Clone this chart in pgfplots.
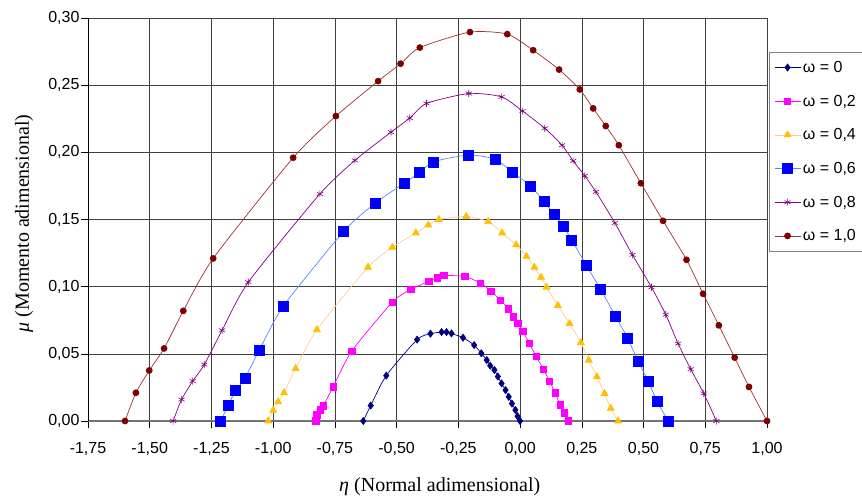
\documentclass[border=0pt]{standalone}
\usepackage{fontspec}
\setmainfont{Liberation Sans}
\newfontfamily\seriffont{Liberation Serif}
\usepackage{pgfplots}
\pgfplotsset{compat=1.18}

\definecolor{cA}{HTML}{000080}
\definecolor{cB}{HTML}{FF00FF}
\definecolor{cCl}{HTML}{FFCC99}
\definecolor{cCm}{HTML}{FFC000}
\definecolor{cDl}{HTML}{5C85FF}
\definecolor{cDm}{HTML}{0000FF}
\definecolor{cE}{HTML}{800080}
\definecolor{cFl}{HTML}{993333}
\definecolor{cFm}{HTML}{800000}

\begin{document}
\begin{tikzpicture}
\begin{axis}[
    scale only axis, width=679pt, height=403pt,
    xmin=-1.75, xmax=1, ymin=0, ymax=0.30,
    xtick={-1.75,-1.5,-1.25,-1,-0.75,-0.5,-0.25,0,0.25,0.5,0.75,1},
    ytick={0,0.05,0.1,0.15,0.2,0.25,0.3},
    axis x line=bottom, axis y line=left,
    x axis line style={-, draw=black!55, line width=2pt},
    y axis line style={-, draw=black, line width=0.8pt},
    grid=major, major grid style={draw=black!75, line width=0.6pt},
    tick align=outside, major tick length=7pt,
    tick style={black, line width=0.6pt},
    ticklabel style={font=\fontsize{16}{19}\selectfont},
    xticklabel style={yshift=-11pt},
    yticklabel style={xshift=2pt},
    /pgf/number format/fixed, /pgf/number format/fixed zerofill,
    /pgf/number format/precision=2, /pgf/number format/use comma,
    /pgf/number format/assume math mode=true,
    scaled ticks=false,
    xlabel={{\itshape η} (Normal adimensional)},
    ylabel={{\itshape μ} (Momento adimensional)},
    xlabel style={at={(axis description cs:0.518,0)}, anchor=center, yshift=-66pt,
        font=\seriffont\fontsize{20}{24}\selectfont},
    ylabel style={at={(axis description cs:-0.0943,0.49)}, anchor=center,
        font=\seriffont\fontsize{20}{24}\selectfont},
    clip mode=individual,
    every axis plot/.append style={line width=0.7pt, smooth, tension=0.4},
    legend style={at={(axis description cs:1,1)}, anchor=north west, xshift=2pt, yshift=-34pt,
        draw=black!50, fill=white, font=\fontsize{16}{19}\selectfont,
        cells={anchor=west}, row sep=17pt, inner xsep=5pt, inner ysep=7pt},
    legend image code/.code={\draw[mark repeat=2,mark phase=2,smooth=false]
        plot coordinates {(0pt,0pt) (13pt,0pt) (26pt,0pt)};},
]
\coordinate (o) at (rel axis cs:0,0);

\addplot[cA, mark=diamond*, mark size=3.5pt, mark options={fill=cA, draw=cA}] coordinates {
(-0.635,0) (-0.605,0.0115) (-0.542,0.0338) (-0.417,0.0606) (-0.363,0.065) (-0.318,0.0662)
(-0.298,0.0662) (-0.278,0.0652) (-0.231,0.062) (-0.186,0.0565) (-0.157,0.0504) (-0.135,0.0453)
(-0.121,0.0412) (-0.104,0.0380) (-0.090,0.0331) (-0.075,0.028) (-0.059,0.023) (-0.046,0.018)
(-0.033,0.013) (-0.019,0.0082) (-0.010,0.0035) (0,0)};
\addlegendentry{ω = 0}

\addplot[cB, mark=square*, mark size=3.2pt, mark options={fill=cB, draw=cB}] coordinates {
(-0.827,0) (-0.823,0.0045) (-0.808,0.0082) (-0.797,0.0114) (-0.757,0.0255) (-0.682,0.052)
(-0.517,0.0885) (-0.442,0.098) (-0.370,0.1039) (-0.334,0.1066) (-0.309,0.1083) (-0.224,0.1076)
(-0.160,0.1026) (-0.118,0.0967) (-0.079,0.0898) (-0.048,0.0836) (-0.027,0.0774) (-0.009,0.0725)
(0.011,0.0668) (0.038,0.0576) (0.065,0.0482) (0.095,0.0383) (0.119,0.0297) (0.142,0.021)
(0.162,0.0119) (0.18,0.0062) (0.195,0)};
\addlegendentry{ω = 0,2}

\addplot[cCl, mark=triangle*, mark size=4pt, mark options={fill=cCm, draw=cCm}] coordinates {
(-1.02,0) (-1.0,0.008) (-0.98,0.0143) (-0.956,0.021) (-0.909,0.039) (-0.823,0.068)
(-0.616,0.1145) (-0.517,0.1293) (-0.422,0.140) (-0.372,0.1459) (-0.329,0.150) (-0.218,0.1523)
(-0.129,0.1484) (-0.073,0.140) (-0.016,0.1311) (0.026,0.1226) (0.058,0.1145) (0.085,0.107)
(0.107,0.0996) (0.153,0.086) (0.20,0.0725) (0.246,0.0584) (0.278,0.0453) (0.311,0.0329)
(0.342,0.0205) (0.367,0.0094) (0.397,0)};
\addlegendentry{ω = 0,4}

\addplot[cDl, mark=square*, mark size=5pt, mark options={fill=cDm, draw=cDm}] coordinates {
(-1.212,0) (-1.182,0.0119) (-1.152,0.0225) (-1.114,0.0321) (-1.056,0.0527) (-0.959,0.0855)
(-0.714,0.1412) (-0.588,0.162) (-0.470,0.177) (-0.406,0.185) (-0.352,0.1929) (-0.21,0.198)
(-0.102,0.1949) (-0.030,0.185) (0.043,0.175) (0.097,0.1632) (0.137,0.154) (0.174,0.145)
(0.209,0.1348) (0.267,0.1162) (0.327,0.0977) (0.386,0.0781) (0.435,0.0618) (0.478,0.0447)
(0.518,0.0297) (0.555,0.0148) (0.599,0)};
\addlegendentry{ω = 0,6}

\addplot[cE, mark=asterisk, mark size=3.5pt, mark options={draw=cE, line width=0.6pt}] coordinates {
(-1.405,0) (-1.371,0.016) (-1.326,0.0297) (-1.279,0.042) (-1.207,0.0675) (-1.101,0.1033)
(-0.811,0.169) (-0.669,0.194) (-0.523,0.215) (-0.447,0.2255) (-0.379,0.2364) (-0.208,0.2438)
(-0.075,0.2413) (0.01,0.2307) (0.10,0.2179) (0.17,0.2053) (0.215,0.1936) (0.262,0.1825)
(0.307,0.1706) (0.384,0.1474) (0.455,0.1237) (0.532,0.0996) (0.59,0.0792) (0.64,0.0576)
(0.691,0.0386) (0.744,0.0205) (0.795,0)};
\addlegendentry{ω = 0,8}

\addplot[cFl, mark=*, mark size=3pt, mark options={fill=cFm, draw=cFm}] coordinates {
(-1.60,0) (-1.556,0.021) (-1.502,0.0376) (-1.442,0.054) (-1.364,0.082) (-1.243,0.121)
(-0.919,0.196) (-0.746,0.227) (-0.575,0.253) (-0.484,0.266) (-0.406,0.278) (-0.203,0.2895)
(-0.052,0.288) (0.053,0.276) (0.158,0.2616) (0.242,0.2468) (0.296,0.2327) (0.347,0.2196)
(0.400,0.2053) (0.489,0.177) (0.579,0.149) (0.674,0.12) (0.741,0.0947) (0.805,0.0712)
(0.869,0.0472) (0.927,0.0254) (1.0,0)};
\addlegendentry{ω = 1,0}
\end{axis}
\pgfresetboundingbox
\path (o) ++(-88pt,-78pt) rectangle ++(862pt,499pt);
\end{tikzpicture}
\end{document}
